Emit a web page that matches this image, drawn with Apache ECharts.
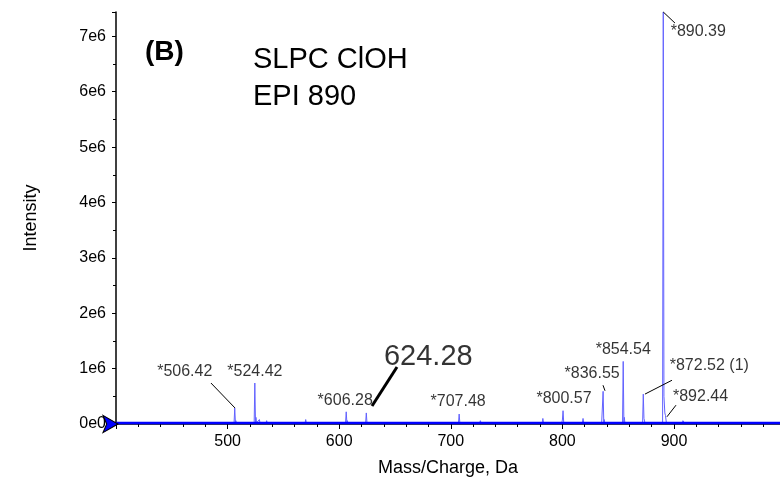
<!DOCTYPE html>
<html><head><meta charset="utf-8">
<script src="https://cdn.jsdelivr.net/npm/echarts@6/dist/echarts.min.js"></script>
<style>html,body{margin:0;padding:0;background:#fff}#c{width:780px;height:479px}</style>
</head><body><div id="c"></div>
<script>
// Spectrum trace (m/z, intensity)
const spectrumMz = [
  400, 451, 451.5, 452, 472, 472.5, 473,
  505.8, 506.4, 507.0, 507.4, 507.8,
  523.8, 524.4, 525.0, 525.4, 525.9, 528.5, 529, 531.5, 532, 532.5, 534.5, 535, 535.5, 539.5, 540, 540.5, 546.5, 547, 547.5,
  569.5, 570, 570.5,
  605.7, 606.3, 606.9, 607.3, 607.8,
  623.7, 624.3, 624.9, 625.3, 625.8,
  688.5, 689, 689.5,
  706.9, 707.5, 708.1, 708.5, 709,
  725.9, 726.5, 727.1,
  781.9, 782.5, 783.1,
  799.4, 800.0, 800.6, 801.2,
  817.9, 818.5, 819.1,
  835.2, 835.9, 836.5, 837.1, 837.5, 838,
  853.9, 854.5, 855.1, 855.5, 856,
  871.9, 872.5, 873.1, 873.5, 874,
  889.8, 890.4, 891.0, 891.8, 892.4, 893.2,
  907.5, 908, 908.8, 909.5,
  995
];
const spectrumIntensity = [
  0.02e6, 0.02e6, 0.05e6, 0.02e6, 0.02e6, 0.04e6, 0.02e6,
  0.02e6, 0.29e6, 0.02e6, 0.06e6, 0.02e6,
  0.02e6, 0.74e6, 0.02e6, 0.12e6, 0.02e6, 0.08e6, 0.02e6, 0.02e6, 0.05e6, 0.02e6, 0.02e6, 0.06e6, 0.02e6, 0.02e6, 0.05e6, 0.02e6, 0.02e6, 0.04e6, 0.02e6,
  0.02e6, 0.08e6, 0.02e6,
  0.02e6, 0.22e6, 0.02e6, 0.06e6, 0.02e6,
  0.02e6, 0.20e6, 0.02e6, 0.05e6, 0.02e6,
  0.02e6, 0.05e6, 0.02e6,
  0.02e6, 0.18e6, 0.02e6, 0.05e6, 0.02e6,
  0.02e6, 0.06e6, 0.02e6,
  0.02e6, 0.10e6, 0.02e6,
  0.02e6, 0.07e6, 0.24e6, 0.02e6,
  0.02e6, 0.10e6, 0.02e6,
  0.02e6, 0.05e6, 0.59e6, 0.02e6, 0.08e6, 0.02e6,
  0.02e6, 1.13e6, 0.02e6, 0.12e6, 0.02e6,
  0.02e6, 0.54e6, 0.10e6, 0.12e6, 0.02e6,
  0.02e6, 7.44e6, 0.50e6, 0.20e6, 0.15e6, 0.02e6,
  0.02e6, 0.06e6, 0.05e6, 0.02e6,
  0.02e6
];
// Annotated peaks
const peakMz = [506.42, 524.42, 606.28, 624.28, 707.48, 800.57, 836.55, 854.54, 872.52, 890.39, 892.44];
const peakIntensity = [0.29e6, 0.74e6, 0.22e6, 0.20e6, 0.18e6, 0.24e6, 0.59e6, 1.13e6, 0.54e6, 7.44e6, 0.13e6];
const peakLabels = ['*506.42', '*524.42', '*606.28', '624.28', '*707.48', '*800.57', '*836.55', '*854.54', '*872.52 (1)', '*890.39', '*892.44'];
const baselineMz = [400, 995];
const baselineIntensity = [0.02e6, 0.02e6];

// Layout only: label pixel offsets from their peak, and leader-line segments (in axis units)
const labelOffsets = [[-50,-36],[0,-11],[-1,-11],[62,-56],[-1,-12],[1,-12],[-11,-18],[0,-12],[66,-29],[35,20],[35,-20]];
const leaderSegments = [
  [[485.1, 0.74e6], [506.6, 0.29e6], 1],
  [[629.4, 0.325e6], [651.8, 1.03e6], 3],
  [[836.4, 0.70e6], [838.2, 0.60e6], 1],
  [[874.0, 0.54e6], [898.2, 0.79e6], 1],
  [[890.4, 7.44e6], [900.9, 7.24e6], 1],
  [[893.7, 0.13e6], [901.8, 0.34e6], 1]
];

const FONT = 'Liberation Sans, Arial, Helvetica, sans-serif';
const chart = echarts.init(document.getElementById('c'), null, {renderer: 'canvas'});

const labelData = peakMz.map((m, i) => ({
  value: [m, peakIntensity[i]],
  label: peakLabels[i] === '624.28' ? {fontSize: 29} : {}
}));

chart.setOption({
  animation: false,
  backgroundColor: '#fff',
  grid: {left: 116, right: 0, top: 12, bottom: 55, containLabel: false, outerBoundsMode: 'none'},
  xAxis: {
    type: 'value', min: 400, max: 995, interval: 100,
    name: 'Mass/Charge, Da', nameLocation: 'middle', nameGap: 35,
    nameTextStyle: {fontFamily: FONT, fontSize: 18, color: '#000'},
    axisLine: {show: true, lineStyle: {color: '#000', width: 1.5}},
    axisTick: {show: true, length: 5, lineStyle: {color: '#000'}},
    minorTick: {show: true, splitNumber: 5, length: 3, lineStyle: {color: '#000'}},
    splitLine: {show: false},
    axisLabel: {fontFamily: FONT, fontSize: 16, color: '#000', margin: 10,
      formatter: v => (v % 100 === 0 && v > 400) ? String(v) : ''}
  },
  yAxis: {
    type: 'value', min: 0, max: 7.44e6, interval: 1e6,
    name: 'Intensity', nameLocation: 'middle', nameGap: 76,
    nameTextStyle: {fontFamily: FONT, fontSize: 18, color: '#000'},
    axisLine: {show: true, lineStyle: {color: '#000', width: 1.5}},
    axisTick: {show: true, length: 4, lineStyle: {color: '#000'}},
    minorTick: {show: true, splitNumber: 2, length: 3, lineStyle: {color: '#000'}},
    splitLine: {show: false},
    axisLabel: {fontFamily: FONT, fontSize: 16, color: '#000', margin: 10,
      formatter: v => v === 0 ? '0e0' : (v % 1e6 === 0 ? (v / 1e6) + 'e6' : '')}
  },
  graphic: [
    {type: 'text', left: 145, top: 38, style: {text: '(B)', font: 'bold 28px ' + FONT, fill: '#000'}},
    {type: 'text', left: 253, top: 45, style: {text: 'SLPC ClOH', font: '29px ' + FONT, fill: '#000'}},
    {type: 'text', left: 253, top: 82, style: {text: 'EPI 890', font: '29px ' + FONT, fill: '#000'}}
  ],
  series: [
    {
      type: 'line', name: 'baseline',
      data: baselineMz.map((m, i) => [m, baselineIntensity[i]]),
      symbol: 'none', lineStyle: {color: '#0000ff', width: 2.5}, z: 3,
      markPoint: {
        symbol: 'arrow', symbolSize: [13, 15], symbolRotate: -90, symbolOffset: [2, 0],
        itemStyle: {color: '#0000ff', borderColor: '#000', borderWidth: 1},
        label: {show: false},
        data: [{coord: [400, 0]}]
      }
    },
    {
      type: 'line', name: 'spectrum',
      data: spectrumMz.map((m, i) => [m, spectrumIntensity[i]]),
      symbol: 'none', lineStyle: {color: '#6262ff', width: 1}, z: 2,
      markLine: {
        silent: true, symbol: 'none', label: {show: false},
        data: leaderSegments.map(s => [
          {coord: s[0], lineStyle: {color: '#000', width: s[2], type: 'solid'}},
          {coord: s[1]}
        ])
      }
    },
    {
      type: 'scatter', name: 'labels', data: labelData,
      symbolSize: 1, itemStyle: {color: 'rgba(0,0,0,0)'}, z: 5,
      label: {show: true, position: 'inside', fontFamily: FONT, fontSize: 16, color: '#000', formatter: p => peakLabels[p.dataIndex]},
      labelLayout: p => ({dx: labelOffsets[p.dataIndex][0], dy: labelOffsets[p.dataIndex][1]})
    }
  ]
});
</script></body></html>
